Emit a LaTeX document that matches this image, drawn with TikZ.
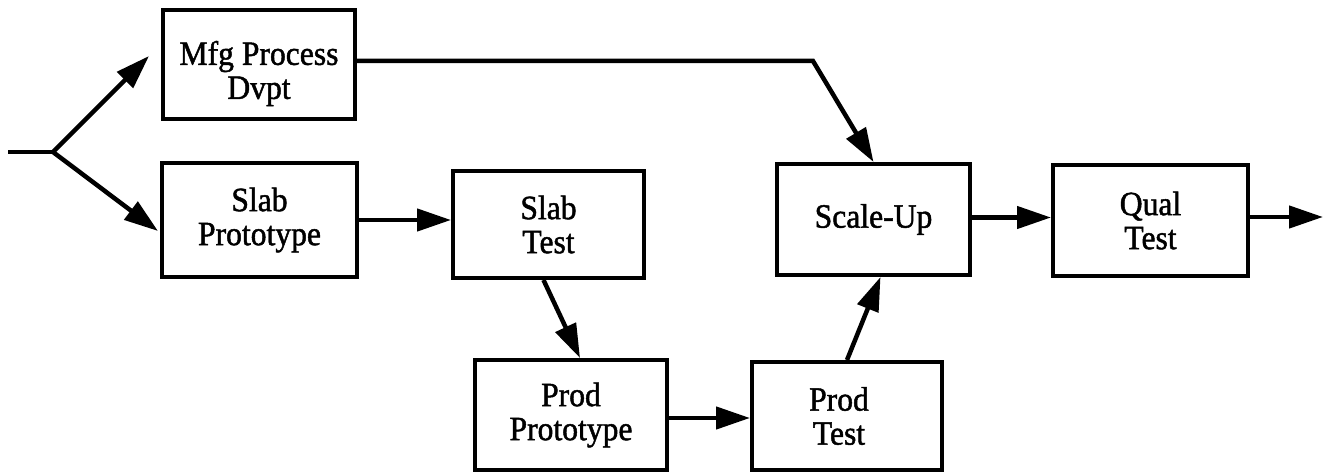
\documentclass[tikz,border=0pt]{standalone}
\usepackage{fontspec}
\newfontfamily\boxfont[FakeStretch=0.93,FakeBold=1.4]{Liberation Serif}
\usetikzlibrary{arrows.meta,calc}
\tikzset{
  stagefont/.style={font=\boxfont\fontsize{34}{34}\selectfont},
  stagebox/.style={draw, line width=4pt, inner sep=0pt, align=center, stagefont},
  flow/.style={line width=4.5pt, -{Triangle[length=34pt,width=22pt]}},
  plain/.style={line width=4.5pt},
}
\begin{document}
\begin{tikzpicture}[x=1pt,y=-1pt]
  \useasboundingbox (0,0) rectangle (1328,473);

  % process stages
  \node[stagebox, minimum width=192pt, minimum height=109pt,
        label={[stagefont, align=center, yshift=-9pt]center:Mfg Process\\Dvpt}] (mfg) at (259,64.5) {};
  \node[stagebox, minimum width=195pt, minimum height=114pt] (slabp) at (259.5,220) {Slab\\Prototype};
  \node[stagebox, minimum width=191pt, minimum height=107pt] (slabt) at (548.5,224.5) {Slab\\Test};
  \node[stagebox, minimum width=192pt, minimum height=110pt] (prodp) at (571,415)  {Prod\\Prototype};
  \node[stagebox, minimum width=190pt, minimum height=108pt,
        label={[stagefont, align=center, xshift=-8pt]center:Prod\\Test}] (prodt) at (847,416) {};
  \node[stagebox, minimum width=193pt, minimum height=111pt] (scale) at (873.5,219.5) {Scale-Up};
  \node[stagebox, minimum width=195pt, minimum height=111pt] (qual)  at (1150.5,220.5) {Qual\\Test};

  % free ends of the flow
  \coordinate (in)   at (8,152);
  \coordinate (fork) at (53,152);
  \coordinate (uptip) at (149,56);
  \coordinate (dntip) at (158,231);
  \coordinate (bend) at (813,61);
  \coordinate (out)  at (1323,217);

  % fork into the two parallel paths
  \draw[plain] (in) -- (fork);
  \draw[flow] (fork) -- (uptip);
  \draw[flow] (fork) -- (dntip);

  % process development joins at scale-up
  \draw[flow] ([yshift=3.5pt]mfg.east) -- (bend) -- (scale.north);

  % prototype and test chain
  \draw[flow] (slabp.east) -- (slabp.east -| slabt.west);
  \draw[flow] ([xshift=-5pt]slabt.south) -- ([xshift=9pt]prodp.north);
  \draw[flow] ([yshift=-3pt]prodp.east) -- ([yshift=-3pt]prodp.east -| prodt.west);
  \draw[flow] (prodt.north) -- ([xshift=7pt]scale.south);
  \draw[flow] ([yshift=2pt]scale.east) -- ([yshift=2pt]scale.east -| qual.west);
  \draw[flow] (qual.east |- out) -- (out);
\end{tikzpicture}
\end{document}
